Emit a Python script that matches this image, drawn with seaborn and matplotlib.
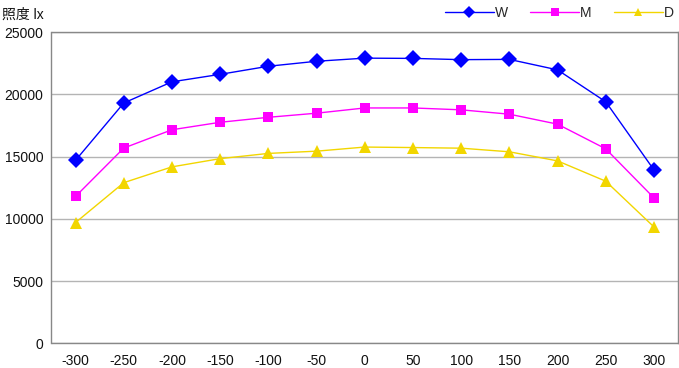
import matplotlib
matplotlib.use("Agg")
import matplotlib.pyplot as plt
import seaborn as sns
import pandas as pd

positions = [-300, -250, -200, -150, -100, -50, 0, 50, 100, 150, 200, 250, 300]
series_names = ["W", "M", "D"]
w_values = [14700, 19300, 21000, 21600, 22250, 22650, 22900, 22880, 22780, 22800, 21960, 19400, 13930]
m_values = [11800, 15680, 17150, 17750, 18150, 18480, 18900, 18900, 18750, 18400, 17600, 15620, 11680]
d_values = [9700, 12900, 14170, 14830, 15250, 15430, 15760, 15720, 15670, 15380, 14650, 13020, 9350]
y_ticks = [0, 5000, 10000, 15000, 20000, 25000]
y_label = "照度 lx"

colors = {"W": "#0000FF", "M": "#FF00FF", "D": "#F2D600"}
markers = {"W": "D", "M": "s", "D": "^"}
sizes = {"W": 8, "M": 7.5, "D": 8}

rows = []
for name, vals in zip(series_names, [w_values, m_values, d_values]):
    for p, v in zip(positions, vals):
        rows.append({"pos": p, "lux": v, "series": name})
df = pd.DataFrame(rows)

sns.set_theme(style="white")
plt.rcParams['font.family'] = ['Liberation Sans', 'Noto Sans CJK JP', 'DejaVu Sans']

fig = plt.figure(figsize=(6.79, 3.68), dpi=100)
ax = fig.add_axes([51.5 / 679, (368 - 343.3) / 368, (678 - 51.5) / 679, (343.3 - 32) / 368])

for name in series_names:
    sub = df[df["series"] == name]
    sns.lineplot(data=sub, x="pos", y="lux", ax=ax, color=colors[name], marker=markers[name],
                 markersize=sizes[name], markeredgewidth=0, linewidth=1.0, label=name,
                 sort=False)

ax.set_xlim(-325, 325)
ax.set_ylim(0, 25000)
ax.set_yticks(y_ticks)
ax.set_yticklabels([str(t) for t in y_ticks])
ax.set_xticks(positions)
ax.set_xticklabels([str(p) for p in positions])
ax.yaxis.grid(True, color="#b4b4b4", linewidth=1.0)
ax.set_axisbelow(True)
for s in ax.spines.values():
    s.set_color("#888888")
    s.set_linewidth(1.0)
ax.tick_params(axis="x", direction="in", length=6, color="#b4b4b4", width=1.2, labelsize=10, pad=8, labelcolor="#111111")
ax.tick_params(axis="y", direction="out", length=3, color="#888888", width=1.0, labelsize=10, pad=3, labelcolor="#111111")
ax.set_xlabel("")
ax.set_ylabel("")

fig.text(2 / 679, 1 - 15 / 368, y_label, fontsize=10, va="center", ha="left", color="#111111")

leg = ax.legend(loc="center right", bbox_to_anchor=(674 / 679, 1 - 13 / 368), bbox_transform=fig.transFigure,
                ncol=3, frameon=False, fontsize=10, handlelength=3.5, handletextpad=0.1,
                columnspacing=1.6, borderpad=0, borderaxespad=0, markerscale=0.75)

fig.savefig("out.png", dpi=100)
